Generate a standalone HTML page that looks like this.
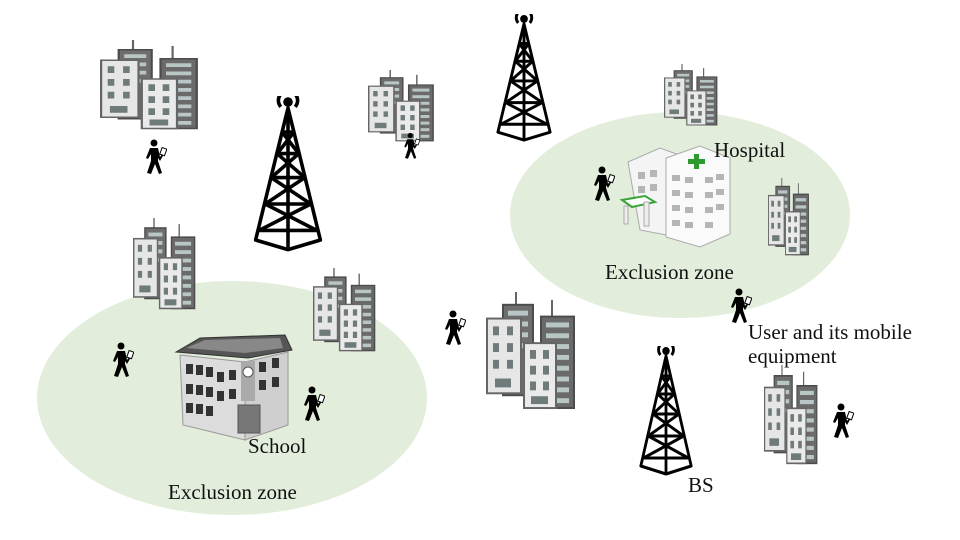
<!DOCTYPE html>
<html><head><meta charset="utf-8"><style>
html,body{margin:0;padding:0;background:#fff;}
svg{display:block;}
text{font-family:"Liberation Serif",serif;fill:#111;}
</style></head><body>
<svg width="960" height="540" viewBox="0 0 960 540" xmlns="http://www.w3.org/2000/svg">
<defs>
<symbol id="city" viewBox="0 0 100 120" preserveAspectRatio="none">
 <line x1="30" y1="0" x2="30" y2="14" stroke="#666" stroke-width="2"/>
 <rect x="17" y="13" width="30" height="92" fill="#6e6e6e" stroke="#4c4c4c" stroke-width="2"/>
 <g fill="#b9c6c6"><rect x="22" y="19" width="20" height="5"/><rect x="22" y="30" width="20" height="5"/><rect x="22" y="41" width="20" height="5"/><rect x="22" y="52" width="20" height="5"/></g>
 <line x1="66" y1="8" x2="66" y2="26" stroke="#666" stroke-width="2"/>
 <rect x="55" y="25" width="33" height="93" fill="#6a6a6a" stroke="#4c4c4c" stroke-width="2"/>
 <g fill="#b9c6c6"><rect x="60" y="31" width="23" height="5"/><rect x="60" y="42" width="23" height="5"/><rect x="60" y="53" width="23" height="5"/><rect x="60" y="64" width="23" height="5"/><rect x="60" y="75" width="23" height="5"/><rect x="60" y="86" width="23" height="5"/><rect x="60" y="97" width="23" height="5"/><rect x="60" y="108" width="23" height="5"/></g>
 <rect x="1" y="27" width="34" height="76" fill="#e6e6e6" stroke="#666" stroke-width="2"/>
 <g fill="#6f7a7a"><rect x="7" y="35" width="6" height="9"/><rect x="21" y="35" width="6" height="9"/><rect x="7" y="52" width="6" height="9"/><rect x="21" y="52" width="6" height="9"/><rect x="7" y="69" width="6" height="9"/><rect x="21" y="69" width="6" height="9"/><rect x="9" y="88" width="16" height="9"/></g>
 <rect x="38" y="52" width="32" height="66" fill="#eaeaea" stroke="#666" stroke-width="2"/>
 <g fill="#6f7a7a"><rect x="44" y="59" width="6" height="9"/><rect x="57" y="59" width="6" height="9"/><rect x="44" y="75" width="6" height="9"/><rect x="57" y="75" width="6" height="9"/><rect x="44" y="91" width="6" height="9"/><rect x="57" y="91" width="6" height="9"/><rect x="45" y="106" width="17" height="8"/></g>
</symbol>
<symbol id="tower" viewBox="0 0 60 130" preserveAspectRatio="none">
 <g fill="none" stroke="#000" stroke-width="3" stroke-linejoin="round">
  <path d="M24 9 A8 8 0 1 1 36 9"/>
  <circle cx="30" cy="5" r="2.5" fill="#000"/>
  <path d="M30 10 L3 120 L30 128 L57 120 Z"/>
  <path d="M30 10 L30 128"/>
  <path d="M25 30 L35 30 M21 48 L39 48 M16 68 L44 68 M11 90 L49 90 M6 112 L54 112"/>
  <path d="M25 30 L39 48 L16 68 L49 90 L6 112 M35 30 L21 48 L44 68 L11 90 L54 112"/>
 </g>
</symbol>
<symbol id="man" viewBox="0 0 24 36">
 <circle cx="11" cy="4" r="3.5" fill="#000"/>
 <path d="M7 9 L15 9 L17 18 L20 14 L21 15 L17 22 L15 19 L15 22 L19 34 L16 35 L12 25 L8 35 L4 34 L8 22 L8 15 L5 20 L3 19 Z" fill="#000"/>
 <rect x="18" y="9" width="5" height="7" fill="#fff" stroke="#000" stroke-width="1" transform="rotate(20 20 12)"/>
</symbol>
</defs>

<ellipse cx="232" cy="398" rx="195" ry="117" fill="#e2eedb"/>
<ellipse cx="680" cy="215" rx="170" ry="103" fill="#e2eedb"/>

<use href="#city" x="100" y="40" width="110" height="90"/>
<use href="#city" x="368" y="70" width="74" height="72"/>
<use href="#city" x="664" y="64" width="60" height="62"/>
<use href="#city" x="133" y="218" width="70" height="92"/>
<use href="#city" x="313" y="268" width="70" height="84"/>
<use href="#city" x="486" y="292" width="100" height="118"/>
<use href="#city" x="768" y="178" width="46" height="78"/>
<use href="#city" x="764" y="365" width="60" height="100"/>

<use href="#tower" x="252" y="96" width="72" height="156"/>
<use href="#tower" x="495" y="14" width="58" height="128"/>
<use href="#tower" x="638" y="346" width="56" height="130"/>

<use href="#man" x="143" y="139" width="24" height="36"/>
<use href="#man" x="402" y="132" width="18" height="28"/>
<use href="#man" x="591" y="166" width="24" height="36"/>
<use href="#man" x="110" y="342" width="24" height="36"/>
<use href="#man" x="301" y="386" width="24" height="36"/>
<use href="#man" x="442" y="310" width="24" height="36"/>
<use href="#man" x="728" y="288" width="24" height="36"/>
<use href="#man" x="830" y="403" width="24" height="36"/>

<!-- Hospital -->
<g>
 <path d="M628 162 L660 148 L682 156 L682 238 L640 230 Z" fill="#f4f4f4" stroke="#aaa"/>
 <path d="M666 158 L700 146 L730 158 L730 234 L700 247 L666 237 Z" fill="#fafafa" stroke="#aaa"/>
 <g fill="#b5b5b5">
  <rect x="672" y="175" width="8" height="6"/><rect x="685" y="177" width="8" height="6"/><rect x="705" y="177" width="8" height="6"/><rect x="716" y="174" width="8" height="6"/>
  <rect x="672" y="190" width="8" height="6"/><rect x="685" y="192" width="8" height="6"/><rect x="705" y="192" width="8" height="6"/><rect x="716" y="189" width="8" height="6"/>
  <rect x="672" y="205" width="8" height="6"/><rect x="685" y="207" width="8" height="6"/><rect x="705" y="207" width="8" height="6"/><rect x="716" y="204" width="8" height="6"/>
  <rect x="672" y="220" width="8" height="6"/><rect x="685" y="222" width="8" height="6"/><rect x="705" y="222" width="8" height="6"/>
  <rect x="638" y="172" width="7" height="7"/><rect x="650" y="170" width="7" height="7"/><rect x="638" y="186" width="7" height="7"/><rect x="650" y="184" width="7" height="7"/>
 </g>
 <path d="M688 159 h6 v-5 h5 v5 h6 v5 h-6 v5 h-5 v-5 h-6 Z" fill="#2c9a2c"/>
 <path d="M622 200 L645 196 L655 202 L632 207 Z" fill="#fff" stroke="#3aa33a" stroke-width="2"/>
 <rect x="624" y="206" width="4" height="18" fill="#eee" stroke="#aaa"/>
 <rect x="644" y="202" width="5" height="24" fill="#eee" stroke="#aaa"/>
</g>

<!-- School -->
<g>
 <path d="M176 352 L200 338 L285 335 L292 350 L248 358 Z" fill="#555" stroke="#333"/>
 <path d="M186 348 L205 340 L280 338 L283 348 L245 353 Z" fill="#888"/>
 <path d="M180 355 L245 362 L245 440 L183 425 Z" fill="#dcdcdc" stroke="#999"/>
 <path d="M245 362 L288 352 L288 425 L245 440 Z" fill="#cfcfcf" stroke="#999"/>
 <g fill="#333">
  <rect x="186" y="364" width="7" height="10"/><rect x="196" y="365" width="7" height="10"/><rect x="206" y="367" width="7" height="10"/>
  <rect x="186" y="384" width="7" height="10"/><rect x="196" y="385" width="7" height="10"/><rect x="206" y="387" width="7" height="10"/>
  <rect x="186" y="403" width="7" height="10"/><rect x="196" y="404" width="7" height="10"/><rect x="206" y="406" width="7" height="10"/>
  <rect x="217" y="372" width="7" height="10"/><rect x="229" y="370" width="7" height="10"/><rect x="217" y="391" width="7" height="10"/><rect x="229" y="389" width="7" height="10"/>
  <rect x="259" y="362" width="7" height="10"/><rect x="272" y="358" width="7" height="10"/><rect x="259" y="380" width="7" height="10"/><rect x="272" y="377" width="7" height="10"/>
 </g>
 <rect x="241" y="361" width="14" height="40" fill="#aaa"/>
 <circle cx="248" cy="372" r="5" fill="#fff" stroke="#555"/>
 <rect x="238" y="405" width="22" height="28" fill="#777" stroke="#555"/>
</g>

<text x="714" y="157" font-size="21">Hospital</text>
<text x="605" y="279" font-size="21">Exclusion zone</text>
<text x="168" y="499" font-size="21">Exclusion zone</text>
<text x="248" y="453" font-size="21">School</text>
<text x="748" y="339" font-size="21">User and its mobile</text>
<text x="748" y="363" font-size="21">equipment</text>
<text x="688" y="492" font-size="21">BS</text>
</svg>
</body></html>
